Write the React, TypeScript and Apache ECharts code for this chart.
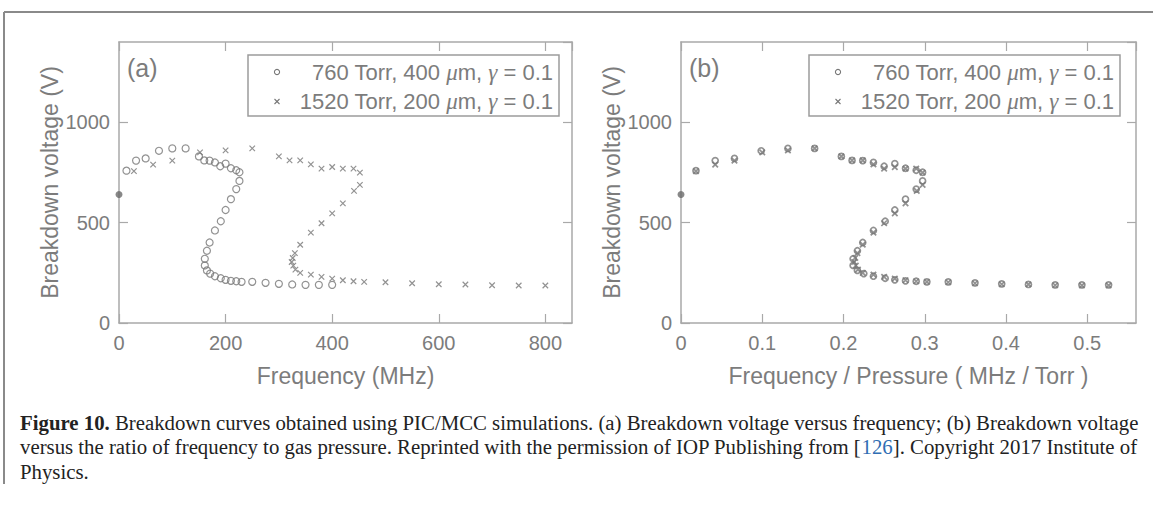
import React, { useEffect, useRef } from "react";
import * as echarts from "echarts";

// ---- Data ----
// 760 Torr, 400 um (circles), frequency in MHz, breakdown voltage in V
const freq760 = [14, 32, 50, 75, 100, 125, 150, 160, 170, 180, 190, 200, 210, 220, 226,
  226, 220, 210, 200, 191, 180, 170, 165, 161, 161, 165, 171, 180, 191, 200, 210, 220, 230,
  250, 275, 300, 325, 350, 375, 400];
const volt760 = [759, 809, 820, 858, 870, 870, 830, 810, 809, 800, 781, 794, 771, 761, 751,
  708, 667, 617, 563, 507, 461, 401, 360, 320, 287, 262, 246, 233, 223, 215, 210, 208, 205,
  205, 200, 195, 192, 190, 190, 190];
// 1520 Torr, 200 um (crosses)
const freq1520 = [28, 64, 100, 152, 200, 250, 300, 320, 340, 360, 380, 400, 420, 440, 452,
  452, 441, 420, 400, 380, 360, 340, 330, 326, 324, 327, 331, 340, 360, 380, 400, 420, 440,
  460, 500, 550, 600, 650, 700, 750, 800];
const volt1520 = [757, 789, 809, 850, 860, 870, 830, 810, 810, 790, 769, 777, 769, 769, 749,
  688, 658, 596, 546, 497, 450, 390, 348, 324, 304, 286, 266, 250, 241, 230, 221, 213, 208,
  205, 203, 198, 193, 192, 188, 187, 187];
// DC breakdown point (f = 0)
const dcFreq = [0];
const dcVolt = [640];
const pressures = [760, 1520];

const legendLabels = ["760 Torr, 400 {i|μ}m, {i|γ} = 0.1", "1520 Torr, 200 {i|μ}m, {i|γ} = 0.1"];
const yTitle = "Breakdown voltage (V)";
const xTitleA = "Frequency (MHz)";
const xTitleB = "Frequency / Pressure ( MHz / Torr )";
const captionLines = [
  "{b|Figure 10.} Breakdown curves obtained using PIC/MCC simulations. (a) Breakdown voltage versus frequency; (b) Breakdown voltage",
  "versus the ratio of frequency to gas pressure. Reprinted with the permission of IOP Publishing from [{l|126}]. Copyright 2017 Institute of",
  "Physics.",
];

const GRAY = "#7c7c7c";
const AXIS = "#a9a9a9";
const MARK = "#777777";
const FONT = "Liberation Sans, Arial, sans-serif";
const CROSS = "path://M0,0L10,10M10,0L0,10";
const CAP = 20.8;

export default function App() {
  const ref = useRef<HTMLDivElement>(null);
  useEffect(() => {
    if (!ref.current) return;
    const chart = echarts.init(ref.current, undefined, { renderer: "svg" });

    const pairs = (xs: number[], ys: number[], div = 1) => xs.map((x, i) => [x / div, ys[i]]);

    const grids = [
      { left: 119, top: 42, width: 453, height: 281 },
      { left: 681, top: 42, width: 455, height: 281 },
    ];

    const line = { show: true, onZero: false, lineStyle: { color: AXIS, width: 1.5 } };
    const tick = { show: true, inside: true, length: 9, lineStyle: { color: AXIS, width: 1.2 } };

    const baseX = (gi: number, max: number, interval: number, name: string, fmt?: any) => ({
      type: "value", gridIndex: gi, min: 0, max, interval, position: "bottom",
      name, nameLocation: "middle", nameGap: 41,
      nameTextStyle: { fontFamily: FONT, fontSize: 23, color: GRAY },
      axisLine: line, axisTick: tick,
      axisLabel: { show: true, fontFamily: FONT, fontSize: 20, color: GRAY, margin: 10, showMaxLabel: false, formatter: fmt },
      splitLine: { show: false },
    });
    const topX = (gi: number, max: number, interval: number) => ({
      type: "value", gridIndex: gi, min: 0, max, interval, position: "top",
      axisLine: line, axisTick: tick,
      axisLabel: { show: false }, splitLine: { show: false },
    });
    const leftY = (gi: number) => ({
      type: "value", gridIndex: gi, min: 0, max: 1400, interval: 500, position: "left",
      name: yTitle, nameLocation: "middle", nameGap: 58,
      nameTextStyle: { fontFamily: FONT, fontSize: 23, color: GRAY },
      axisLine: line, axisTick: tick,
      axisLabel: { show: true, fontFamily: FONT, fontSize: 20, color: GRAY, margin: 9, showMaxLabel: false, formatter: (v: number) => String(v) },
      splitLine: { show: false },
    });
    const rightY = (gi: number) => ({
      type: "value", gridIndex: gi, min: 0, max: 1400, interval: 500, position: "right",
      axisLine: line, axisTick: tick,
      axisLabel: { show: false }, splitLine: { show: false },
    });

    const circleSeries = (xi: number, yi: number, data: number[][], size: number, w: number) => ({
      type: "scatter", xAxisIndex: xi, yAxisIndex: yi, data, symbol: "circle", symbolSize: size,
      itemStyle: { color: "rgba(0,0,0,0)", borderColor: MARK, borderWidth: w },
    });
    const crossSeries = (xi: number, yi: number, data: number[][], size: number, w: number) => ({
      type: "scatter", xAxisIndex: xi, yAxisIndex: yi, data, symbol: CROSS, symbolSize: size,
      itemStyle: { color: "rgba(0,0,0,0)", borderColor: MARK, borderWidth: w },
    });
    const dcSeries = (xi: number, yi: number, div: number) => ({
      type: "scatter", xAxisIndex: xi, yAxisIndex: yi, data: pairs(dcFreq, dcVolt, div),
      symbol: "circle", symbolSize: 7, itemStyle: { color: "#6a6a6a" },
    });

    const legendBox = (x0: number, y0: number) => {
      const w = 311, h = 61;
      const sx = x0 + 29, tx = x0 + w - 6;
      return [
        { type: "rect", shape: { x: x0, y: y0, width: w, height: h }, style: { fill: "#fff", stroke: "#9c9c9c", lineWidth: 1.5 }, z: 100 },
        { type: "circle", shape: { cx: sx, cy: y0 + 17, r: 2.6 }, style: { fill: "none", stroke: MARK, lineWidth: 1.1 }, z: 101 },
        { type: "line", shape: { x1: sx - 2.5, y1: y0 + 44, x2: sx + 2.5, y2: y0 + 49 }, style: { stroke: MARK, lineWidth: 1.1 }, z: 101 },
        { type: "line", shape: { x1: sx + 2.5, y1: y0 + 44, x2: sx - 2.5, y2: y0 + 49 }, style: { stroke: MARK, lineWidth: 1.1 }, z: 101 },
        ...legendLabels.map((t, i) => ({
          type: "text", z: 101,
          style: {
            text: t, x: tx, y: y0 + 17 + i * 29.5, align: "right", verticalAlign: "middle",
            fontFamily: FONT, fontSize: 22, fill: GRAY,
            rich: { i: { fontFamily: "Liberation Serif, serif", fontStyle: "italic", fontSize: 23, fill: GRAY } },
          },
        })),
      ];
    };

    chart.setOption({
      animation: false,
      backgroundColor: "#ffffff",
      grid: grids,
      xAxis: [
        baseX(0, 850, 200, xTitleA),
        topX(0, 850, 200),
        baseX(1, 0.56, 0.1, xTitleB, (v: number) => (v === 0 ? "0" : String(+v.toFixed(1)))),
        topX(1, 0.56, 0.1),
      ],
      yAxis: [leftY(0), rightY(0), leftY(1), rightY(1)],
      series: [
        circleSeries(0, 0, pairs(freq760, volt760), 7, 1.2),
        crossSeries(0, 0, pairs(freq1520, volt1520), 5.5, 1.2),
        dcSeries(0, 0, 1),
        circleSeries(2, 2, pairs(freq760, volt760, pressures[0]), 6, 1.7),
        crossSeries(2, 2, pairs(freq1520, volt1520, pressures[1]), 5.5, 1.7),
        dcSeries(2, 2, 1),
      ],
      graphic: [
        { type: "line", shape: { x1: 4, y1: 12, x2: 1153, y2: 12 }, style: { stroke: "#8a8a8a", lineWidth: 2 } },
        { type: "line", shape: { x1: 4, y1: 12, x2: 4, y2: 484 }, style: { stroke: "#8a8a8a", lineWidth: 2 } },
        { type: "text", style: { text: "(a)", x: 127, y: 68, verticalAlign: "middle", fontFamily: FONT, fontSize: 25, fill: GRAY } },
        { type: "text", style: { text: "(b)", x: 689, y: 68, verticalAlign: "middle", fontFamily: FONT, fontSize: 25, fill: GRAY } },
        ...legendBox(248, 55),
        ...legendBox(809, 55),
        ...captionLines.map((t, i) => ({
          type: "text",
          style: {
            text: t, x: 20, y: 422 + i * 24.5, verticalAlign: "middle",
            fontFamily: "Liberation Serif, serif", fontSize: CAP, fill: "#222",
            rich: {
              b: { fontFamily: "Liberation Serif, serif", fontWeight: "bold", fontSize: CAP, fill: "#222" },
              l: { fontFamily: "Liberation Serif, serif", fontSize: CAP, fill: "#2f6db3" },
            },
          },
        })),
      ],
    });
    return () => chart.dispose();
  }, []);

  return (
    <div
      ref={ref}
      style={{ position: "fixed", left: 0, top: 0, width: 1153, height: 508, background: "#fff" }}
    />
  );
}
